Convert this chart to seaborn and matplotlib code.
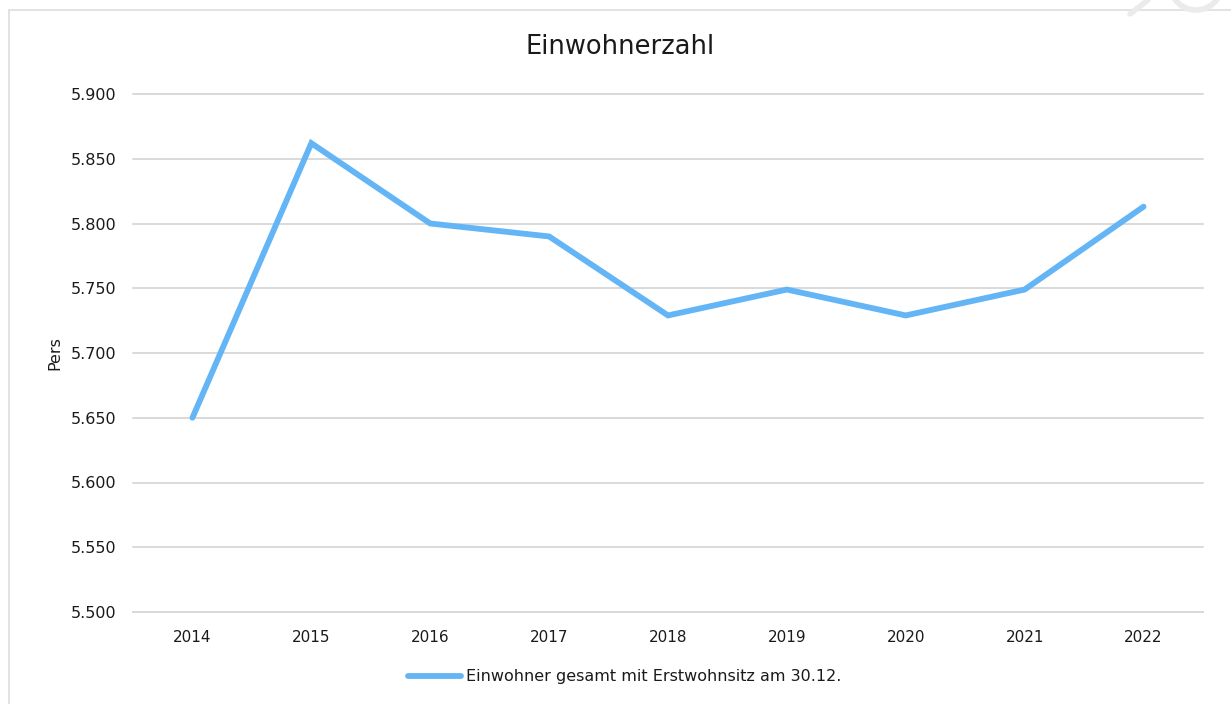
import matplotlib
matplotlib.use("Agg")
import matplotlib.pyplot as plt
from matplotlib.patches import Rectangle, Arc
from matplotlib.ticker import FuncFormatter
import seaborn as sns
import pandas as pd

# Population figures (persons with primary residence, as of 30.12.)
years = [2014, 2015, 2016, 2017, 2018, 2019, 2020, 2021, 2022]
einwohner = [5650, 5862, 5800, 5790, 5729, 5749, 5729, 5749, 5813]
series_label = "Einwohner gesamt mit Erstwohnsitz am 30.12."
y_ticks = [5500, 5550, 5600, 5650, 5700, 5750, 5800, 5850, 5900]

df = pd.DataFrame({"Jahr": years, "Pers": einwohner, "Reihe": series_label})

sns.set_theme(style="white", font="DejaVu Sans")
FONT = "DejaVu Sans"
plt.rcParams["font.family"] = [FONT]
plt.rcParams["font.sans-serif"] = [FONT]

line_color = "#64B5F6"
grid_color = "#D9D9D9"
text_color = "#1a1a1a"

fig = plt.figure(figsize=(12.31, 7.04), dpi=100)
ax = fig.add_axes([133 / 1231, 1 - 612 / 704, (1203 - 133) / 1231, (612 - 94) / 704])

sns.lineplot(data=df, x="Jahr", y="Pers", hue="Reihe", palette=[line_color],
             linewidth=4.2, ax=ax, legend=True, solid_capstyle="round",
             solid_joinstyle="miter")

ax.set_xlim(years[0] - 0.5, years[-1] + 0.5)
ax.set_ylim(y_ticks[0], y_ticks[-1])
ax.set_xticks(years)
ax.set_xticklabels([str(y) for y in years], fontfamily=FONT)
ax.set_yticks(y_ticks)
ax.yaxis.set_major_formatter(FuncFormatter(lambda v, p: f"{v:,.0f}".replace(",", ".")))

ax.grid(axis="y", color=grid_color, linewidth=1.4)
ax.grid(axis="x", visible=False)
ax.set_axisbelow(True)
for gl in ax.yaxis.get_gridlines():
    gl.set_clip_on(False)
for side in ["left", "right", "top"]:
    ax.spines[side].set_visible(False)
ax.spines["bottom"].set_color(grid_color)
ax.spines["bottom"].set_linewidth(1.4)

ax.tick_params(axis="y", length=0, pad=12, labelsize=11.5, labelcolor=text_color)
ax.tick_params(axis="x", length=0, pad=13, labelsize=11, labelcolor=text_color)

ax.set_xlabel("")
ax.set_ylabel("Pers", fontsize=11.5, color=text_color, labelpad=6, fontfamily=FONT)

fig.text(0.504, 1 - 47 / 704, "Einwohnerzahl", ha="center", va="center",
         fontsize=18.5, color=text_color, fontfamily=FONT)

handles, labels = ax.get_legend_handles_labels()
ax.legend_.remove()
leg = fig.legend(handles, labels, loc="center", bbox_to_anchor=(625 / 1231, 1 - 677 / 704),
                 frameon=False, handlelength=3.3, handletextpad=0.35,
                 labelcolor=text_color, prop={"family": FONT, "size": 11.5})
for h in leg.legend_handles:
    h.set_linewidth(4.2)
    h.set_solid_capstyle("round")

# Chart frame (left and top edges visible)
fig.patches.append(Rectangle((8.5 / 1231, -0.1), 1.2, 1 - 9.5 / 704 + 0.1,
                             transform=fig.transFigure, fill=False,
                             edgecolor="#DDDDDD", linewidth=1.2))

# Faint logo mark in the upper right corner
fig.patches.append(Arc((1196 / 1231, 1 + 16 / 704), 52 / 1231, 52 / 704,
                       transform=fig.transFigure, theta1=180, theta2=360,
                       edgecolor="#EBEBEB", linewidth=4))
fig.lines.append(plt.Line2D([1130 / 1231, 1148 / 1231], [1 - 14 / 704, 1.0],
                            transform=fig.transFigure, color="#EBEBEB", linewidth=4))

fig.savefig("out.png", dpi=100, facecolor="white")
